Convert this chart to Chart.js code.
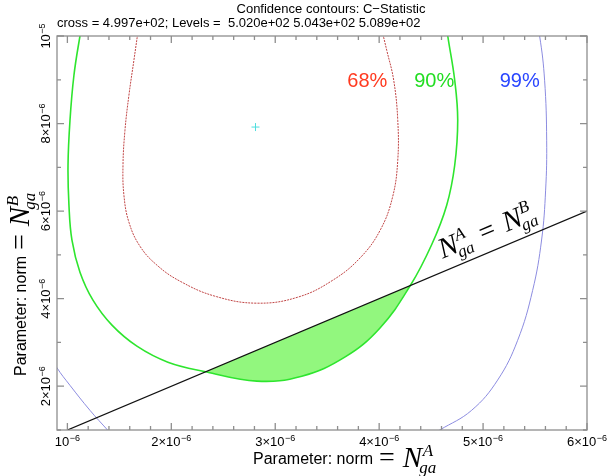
<!DOCTYPE html>
<html>
<head>
<meta charset="utf-8">
<script src="https://cdn.jsdelivr.net/npm/chart.js@4.4.0/dist/chart.umd.min.js"></script>
<style>
  html, body { margin: 0; padding: 0; background: #fff; }
  #wrap { width: 607px; height: 476px; }
</style>
</head>
<body>
<div id="wrap"><canvas id="c" width="607" height="476"></canvas></div>
<script>
// all values in units of 1e-6
const UNIT = 1e-6

const xMin = 0.9, xMax = 6.0
const yMin = 1.0, yMax = 10.0

const xMajorTicks = [1, 2, 3, 4, 5, 6]
const xTickMant = ['10', '2×10', '3×10', '4×10', '5×10', '6×10']
const xTickExp = ['−6', '−6', '−6', '−6', '−6', '−6']
const xMinorStep = 0.2

const yMajorTicks = [2, 4, 6, 8, 10]
const yTickMant = ['2×10', '4×10', '6×10', '8×10', '10']
const yTickExp = ['−6', '−6', '−6', '−6', '−5']
const yMinorStep = 1

// best fit
const bestX = [2.81]
const bestY = [7.92]

// 68% contour
const c68X = [1.688, 1.640, 1.592, 1.554, 1.535, 1.544, 1.592, 1.698, 1.862, 2.083, 2.419, 2.823, 3.217, 3.554, 3.823, 4.015, 4.131, 4.179, 4.179, 4.140, 4.073, 4.015]
const c68Y = [10.244, 9.445, 8.646, 7.847, 7.048, 6.363, 5.747, 5.199, 4.765, 4.400, 4.057, 3.897, 4.034, 4.422, 4.947, 5.587, 6.340, 7.162, 8.075, 8.989, 9.674, 10.244]

// 90% contour
const c90X = [1.15, 1.121, 1.063, 1.025, 1.006, 1.015, 1.044, 1.121, 1.246, 1.429, 1.669, 1.967, 2.33, 2.823, 3.256, 3.669, 4.006, 4.30, 4.506, 4.650, 4.727, 4.756, 4.727, 4.660, 4.640]
const c90Y = [10.36, 10.0, 9.103, 8.075, 7.048, 6.135, 5.336, 4.605, 3.966, 3.395, 2.915, 2.550, 2.33, 2.116, 2.230, 2.664, 3.326, 4.30, 5.237, 6.135, 7.048, 8.075, 8.989, 10.0, 10.36]

// 99% contour, two pieces
const c99aX = [0.70, 0.80, 0.90, 1.025, 1.217, 1.39, 1.50]
const c99aY = [3.3, 2.85, 2.42, 2.02, 1.45, 0.99, 0.70]
const c99bX = [5.50, 5.544, 5.592, 5.612, 5.602, 5.563, 5.477, 5.333, 5.14, 4.89, 4.583, 4.40]
const c99bY = [10.4, 10.0, 8.99, 7.62, 6.48, 5.34, 4.19, 3.05, 2.14, 1.45, 1.00, 0.75]

// N_A = N_B line
const eqX = [1, 6]
const eqY = [1, 6]

const levelLabels = ['68%', '90%', '99%']
const levelColors = ['#ff3a20', '#22dd22', '#2a46ff']
const levelLabelX = [3.886, 4.53, 5.352]
const levelLabelY = [8.966, 8.966, 8.966]

function pts(xs, ys) {
  return xs.map((x, i) => ({ x: x * UNIT, y: ys[i] * UNIT }))
}

// region of the 90% contour lying below the equality line
var fillPts = pts(c90X, c90Y).filter((p) => p.y <= p.x * (1 + 1e-9))

const SANS = '"Liberation Sans", Arial, Helvetica, sans-serif'
const SERIF = '"Liberation Serif", "Times New Roman", serif'

function drawSup(ctx, base, exp, x, y) {
  ctx.font = '13px ' + SANS
  var wb = ctx.measureText(base).width
  ctx.font = '9px ' + SANS
  var we = ctx.measureText(exp).width
  var x0 = x - (wb + we + 0.5) / 2
  ctx.textAlign = 'left'
  ctx.textBaseline = 'alphabetic'
  ctx.font = '13px ' + SANS
  ctx.fillText(base, x0, y)
  ctx.font = '9px ' + SANS
  ctx.fillText(exp, x0 + wb + 0.5, y - 5)
}

function drawN(ctx, x, y, sup, size) {
  ctx.font = 'italic ' + size + 'px ' + SERIF
  ctx.fillText('N', x, y)
  var w = ctx.measureText('N').width
  var s = Math.round(size * 0.58)
  ctx.font = 'italic ' + s + 'px ' + SERIF
  ctx.fillText(sup, x + w + 0.5, y - size * 0.38)
  ctx.fillText('ga', x + w - size * 0.1, y + size * 0.2)
  var w2 = Math.max(ctx.measureText(sup).width + 0.5, ctx.measureText('ga').width - size * 0.1)
  return w + w2
}

function drawTitle(ctx, sup) {
  ctx.textAlign = 'left'
  ctx.textBaseline = 'alphabetic'
  ctx.font = '16px ' + SANS
  ctx.fillText('Parameter: norm', 0, 0)
  var cx = ctx.measureText('Parameter: norm').width + 6
  ctx.font = '28px ' + SERIF
  ctx.fillText('=', cx, 2)
  cx += ctx.measureText('=').width + 8
  drawN(ctx, cx, 3, sup, 29)
}

const decorPlugin = {
  id: 'decor',
  afterDraw(chart) {
    var ctx = chart.ctx
    var a = chart.chartArea
    var xs = chart.scales.x, ys = chart.scales.y
    ctx.save()

    // frame
    ctx.strokeStyle = '#8e8e8e'
    ctx.lineWidth = 1.3
    ctx.strokeRect(a.left, a.top, a.right - a.left, a.bottom - a.top)

    // ticks (inside, all four sides)
    ctx.beginPath()
    for (var v = 1; v <= xMax + 1e-9; v += xMinorStep) {
      var major = xMajorTicks.some((m) => Math.abs(m - v) < 1e-6)
      var len = major ? 7 : 4
      var px = xs.getPixelForValue(v * UNIT)
      ctx.moveTo(px, a.bottom); ctx.lineTo(px, a.bottom - len)
      ctx.moveTo(px, a.top); ctx.lineTo(px, a.top + len)
    }
    for (var w = yMin; w <= yMax + 1e-9; w += yMinorStep) {
      var majorY = yMajorTicks.some((m) => Math.abs(m - w) < 1e-6)
      var lenY = majorY ? 7 : 4
      var py = ys.getPixelForValue(w * UNIT)
      ctx.moveTo(a.left, py); ctx.lineTo(a.left + lenY, py)
      ctx.moveTo(a.right, py); ctx.lineTo(a.right - lenY, py)
    }
    ctx.stroke()

    ctx.fillStyle = '#000'
    // x tick labels
    xMajorTicks.forEach((t, i) => {
      drawSup(ctx, xTickMant[i], xTickExp[i], xs.getPixelForValue(t * UNIT), 446)
    })
    // y tick labels (rotated)
    yMajorTicks.forEach((t, i) => {
      ctx.save()
      ctx.translate(50, ys.getPixelForValue(t * UNIT))
      ctx.rotate(-Math.PI / 2)
      drawSup(ctx, yTickMant[i], yTickExp[i], 0, 0)
      ctx.restore()
    })

    // titles
    ctx.textAlign = 'center'
    ctx.font = '13px ' + SANS
    ctx.fillText('Confidence contours: C−Statistic', 331, 13)
    ctx.textAlign = 'left'
    ctx.fillText('cross = 4.997e+02; Levels =  5.020e+02 5.043e+02 5.089e+02', 57, 27)

    // axis titles
    ctx.save()
    ctx.translate(253, 464)
    drawTitle(ctx, 'A')
    ctx.restore()
    ctx.save()
    ctx.translate(26, 376)
    ctx.rotate(-Math.PI / 2)
    drawTitle(ctx, 'B')
    ctx.restore()

    // level labels
    ctx.font = '20px ' + SANS
    ctx.textAlign = 'center'
    ctx.textBaseline = 'middle'
    levelLabels.forEach((s, i) => {
      ctx.fillStyle = levelColors[i]
      ctx.fillText(s, xs.getPixelForValue(levelLabelX[i] * UNIT), ys.getPixelForValue(levelLabelY[i] * UNIT))
    })

    // label along the equality line
    var p1x = xs.getPixelForValue(eqX[0] * UNIT), p1y = ys.getPixelForValue(eqY[0] * UNIT)
    var p2x = xs.getPixelForValue(eqX[1] * UNIT), p2y = ys.getPixelForValue(eqY[1] * UNIT)
    var ang = Math.atan2(p2y - p1y, p2x - p1x)
    var ax = xs.getPixelForValue(4.64 * UNIT), ay = ys.getPixelForValue(4.64 * UNIT)
    ctx.save()
    ctx.translate(ax, ay)
    ctx.rotate(ang)
    ctx.fillStyle = '#000'
    ctx.textAlign = 'left'
    ctx.textBaseline = 'alphabetic'
    var cx = 2
    cx += drawN(ctx, cx, -12, 'A', 29) + 10
    ctx.font = '28px ' + SERIF
    ctx.fillText('=', cx, -12)
    cx += ctx.measureText('=').width + 10
    drawN(ctx, cx, -12, 'B', 29)
    ctx.restore()

    ctx.restore()
  }
}

new Chart(document.getElementById('c'), {
  type: 'scatter',
  data: {
    datasets: [
      { data: fillPts, showLine: true, borderWidth: 0, pointRadius: 0, fill: 'shape', backgroundColor: '#92f77e', tension: 0.4, order: 6 },
      { data: pts(c68X, c68Y), showLine: true, borderColor: '#c04444', borderWidth: 1, borderDash: [2, 1], pointRadius: 0, tension: 0.4, order: 5 },
      { data: pts(c90X, c90Y), showLine: true, borderColor: '#2ee52e', borderWidth: 1.6, pointRadius: 0, tension: 0.4, order: 4 },
      { data: pts(c99aX, c99aY), showLine: true, borderColor: '#8c8ce0', borderWidth: 1, pointRadius: 0, tension: 0.4, order: 4 },
      { data: pts(c99bX, c99bY), showLine: true, borderColor: '#8c8ce0', borderWidth: 1, pointRadius: 0, tension: 0.4, order: 4 },
      { data: pts(eqX, eqY), showLine: true, borderColor: '#111', borderWidth: 1.3, pointRadius: 0, order: 2 },
      { data: pts(bestX, bestY), pointStyle: 'cross', pointRadius: 4, borderColor: '#4fdede', borderWidth: 1, order: 1 }
    ]
  },
  options: {
    responsive: false,
    animation: false,
    events: [],
    clip: 0,
    layout: { padding: { left: 57, right: 20, top: 36, bottom: 46 } },
    elements: { line: { capBezierPoints: false } },
    plugins: { legend: { display: false }, tooltip: { enabled: false } },
    scales: {
      x: { type: 'linear', min: xMin * UNIT, max: xMax * UNIT, display: false },
      y: { type: 'linear', min: yMin * UNIT, max: yMax * UNIT, display: false }
    }
  },
  plugins: [decorPlugin]
})
</script>
</body>
</html>
